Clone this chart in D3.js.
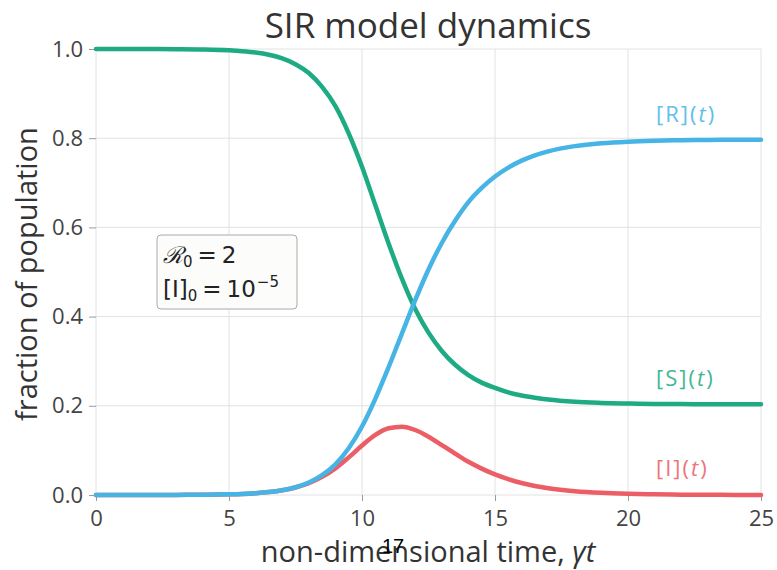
<!DOCTYPE html>
<html>
<head>
<meta charset="utf-8">
<script src="https://cdn.jsdelivr.net/npm/d3@7.9.0/dist/d3.min.js"></script>
<style>
  body { margin: 0; background: #fff; }
  svg text { font-family: "Open Sans", "Noto Sans", sans-serif; }
</style>
</head>
<body>
<svg id="chart" width="777" height="570"></svg>
<script>
// time points (non-dimensional, gamma*t)
const times = [0, 1, 2, 3, 4, 5, 5.5, 6, 6.5, 7, 7.5, 8, 8.5, 9, 9.5, 10, 10.5, 11, 11.5,
  12, 12.5, 13, 13.5, 14, 14.5, 15, 15.5, 16, 16.5, 17, 18, 19, 20, 21, 22, 23, 24, 25];

// fraction susceptible
const sValues = [1.0, 1.0, 1.0, 0.9996, 0.9989, 0.997, 0.995, 0.992, 0.987, 0.979, 0.966,
  0.946, 0.915, 0.872, 0.811, 0.736, 0.650, 0.564, 0.485, 0.417, 0.364, 0.323, 0.292,
  0.269, 0.252, 0.240, 0.230, 0.223, 0.218, 0.214, 0.209, 0.2065, 0.205, 0.204, 0.2038,
  0.2035, 0.2034, 0.2033];

// fraction infected
const iValues = [0.0, 0.0, 0.0001, 0.0002, 0.0006, 0.0015, 0.0024, 0.004, 0.0065, 0.0105,
  0.0168, 0.0264, 0.0406, 0.0597, 0.0843, 0.1109, 0.1347, 0.1497, 0.1532, 0.1457, 0.1306,
  0.1119, 0.0928, 0.0744, 0.0592, 0.0462, 0.0356, 0.027, 0.0203, 0.0153, 0.0086, 0.0048,
  0.0027, 0.0015, 0.0008, 0.0005, 0.0002, 0.0001];

// fraction recovered
const rValues = [0.0, 0.0, 0.0001, 0.0002, 0.0005, 0.0015, 0.0024, 0.004, 0.0066, 0.0107,
  0.0173, 0.0279, 0.0444, 0.0687, 0.1048, 0.1535, 0.2157, 0.2865, 0.362, 0.4368, 0.5057,
  0.5651, 0.6147, 0.6566, 0.6884, 0.7141, 0.7341, 0.7497, 0.7617, 0.7706, 0.7822, 0.7887,
  0.7923, 0.7943, 0.7954, 0.796, 0.7964, 0.7966];

const xTicks = [0, 5, 10, 15, 20, 25];
const yTicks = [0, 0.2, 0.4, 0.6, 0.8, 1.0];

const series = [
  { name: 'S', values: sValues, color: '#1eab84', labelX: 656, labelY: 386 },
  { name: 'I', values: iValues, color: '#ec5e66', labelX: 656, labelY: 476 },
  { name: 'R', values: rValues, color: '#46b4e4', labelX: 656, labelY: 122 },
];

const svg = d3.select('#chart');
const plotLeft = 96, plotRight = 761, plotTop = 49, plotBottom = 495;

const x = d3.scaleLinear().domain([0, 25]).range([plotLeft, plotRight]);
const y = d3.scaleLinear().domain([0, 1]).range([plotBottom, plotTop]);

// grid
svg.append('g')
  .selectAll('line')
  .data(xTicks)
  .join('line')
  .attr('x1', d => x(d)).attr('x2', d => x(d))
  .attr('y1', plotTop).attr('y2', plotBottom)
  .attr('stroke', '#e2e2e2').attr('stroke-width', 1);

svg.append('g')
  .selectAll('line')
  .data(yTicks)
  .join('line')
  .attr('x1', plotLeft).attr('x2', plotRight)
  .attr('y1', d => y(d)).attr('y2', d => y(d))
  .attr('stroke', '#e2e2e2').attr('stroke-width', 1);

// axes (ticks + labels, no domain line)
const xAxis = svg.append('g')
  .attr('transform', `translate(0,${plotBottom})`)
  .call(d3.axisBottom(x).tickValues(xTicks).tickSize(6).tickPadding(9).tickFormat(d3.format('d')));
const yAxis = svg.append('g')
  .attr('transform', `translate(${plotLeft},0)`)
  .call(d3.axisLeft(y).tickValues(yTicks).tickSize(7).tickPadding(6).tickFormat(d3.format('.1f')));

[xAxis, yAxis].forEach(ax => {
  ax.select('.domain').remove();
  ax.selectAll('.tick line').attr('stroke', '#999');
  ax.selectAll('.tick text')
    .attr('fill', '#444')
    .style('font-size', '22px')
    .style('font-family', '"Open Sans", sans-serif');
});

// curves
const line = d3.line()
  .x((d, i) => x(times[i]))
  .y(d => y(d))
  .curve(d3.curveMonotoneX);

svg.append('g')
  .selectAll('path')
  .data(series)
  .join('path')
  .attr('d', d => line(d.values))
  .attr('fill', 'none')
  .attr('stroke', d => d.color)
  .attr('stroke-width', 4.5)
  .attr('stroke-linecap', 'round');

// curve labels
const labels = svg.append('g')
  .selectAll('text')
  .data(series)
  .join('text')
  .attr('x', d => d.labelX)
  .attr('y', d => d.labelY)
  .attr('fill', d => d.color)
  .attr('opacity', 0.85)
  .style('font-size', '22px')
  .style('letter-spacing', '2px');
labels.append('tspan').text(d => `[${d.name}](`);
labels.append('tspan').attr('font-style', 'italic').text('t');
labels.append('tspan').text(')');

// annotation box
svg.append('rect')
  .attr('x', 157).attr('y', 235)
  .attr('width', 140).attr('height', 74)
  .attr('rx', 4)
  .attr('fill', '#fcfcfa')
  .attr('stroke', '#aaa')
  .attr('stroke-width', 1);

const annFont = '"DejaVu Sans", sans-serif';
const ann1 = svg.append('text').attr('x', 163).attr('y', 263)
  .attr('fill', '#222').style('font-size', '23px').style('font-family', annFont);
ann1.append('tspan').attr('font-style', 'italic')
  .style('font-family', '"DejaVu Serif", serif').text('\u211B');
ann1.append('tspan').attr('dy', 4).style('font-size', '15px').text('0');
ann1.append('tspan').attr('dy', -4).attr('dx', 5).text('=');
ann1.append('tspan').attr('dx', 5).text('2');

const ann2 = svg.append('text').attr('x', 163).attr('y', 297)
  .attr('fill', '#222').style('font-size', '23px').style('font-family', annFont);
ann2.append('tspan').text('[I]');
ann2.append('tspan').attr('dy', 4).style('font-size', '15px').text('0');
ann2.append('tspan').attr('dy', -4).attr('dx', 5).text('=');
ann2.append('tspan').attr('dx', 5).text('10');
ann2.append('tspan').attr('dy', -10).attr('dx', 1).style('font-size', '15px').text('\u22125');

// title and axis labels
svg.append('text')
  .attr('x', 428).attr('y', 38)
  .attr('text-anchor', 'middle')
  .attr('fill', '#333')
  .style('font-size', '35px')
  .text('SIR model dynamics');

const xl = svg.append('text')
  .attr('x', 428).attr('y', 562)
  .attr('text-anchor', 'middle')
  .attr('fill', '#333')
  .style('font-size', '29px');
xl.append('tspan').text('non-dimensional time, ');
xl.append('tspan').attr('font-style', 'italic').text('\u03B3t');

svg.append('text')
  .attr('transform', 'translate(37,274) rotate(-90)')
  .attr('text-anchor', 'middle')
  .attr('fill', '#333')
  .style('font-size', '29px')
  .text('fraction of population');

// stray page number in the source image
svg.append('text')
  .attr('x', 382).attr('y', 553)
  .attr('fill', '#000')
  .style('font-size', '20px')
  .style('font-family', '"Liberation Sans", sans-serif')
  .text('17');
</script>
</body>
</html>
